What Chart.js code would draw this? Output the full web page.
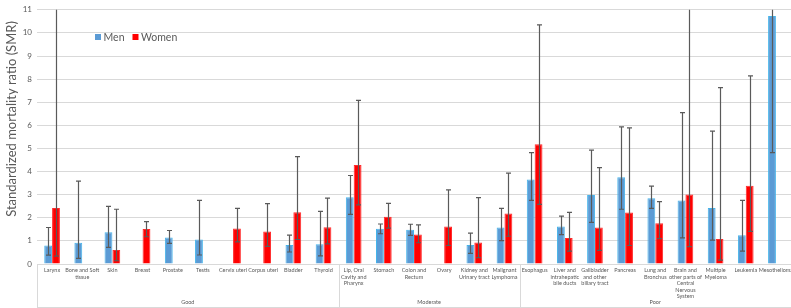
<!DOCTYPE html>
<html>
<head>
<meta charset="utf-8">
<script src="https://cdn.jsdelivr.net/npm/chart.js@4/dist/chart.umd.min.js"></script>
<style>
html,body{margin:0;padding:0;background:#fff;}
canvas{display:block;}
</style>
</head>
<body>
<canvas id="c" width="791" height="308" style="width:791px;height:308px"></canvas>
<script>
const categories = [
  ['Larynx'], ['Bone and Soft','tissue'], ['Skin'], ['Breast'], ['Prostate'], ['Testis'],
  ['Cervix uteri'], ['Corpus uteri'], ['Bladder'], ['Thyroid'],
  ['Lip, Oral','Cavity and','Pharynx'], ['Stomach'], ['Colon and','Rectum'], ['Ovary'],
  ['Kidney and','Urinary tract'], ['Malignant','Lymphoma'],
  ['Esophagus'], ['Liver and','intrahepatic','bile ducts'], ['Gallbladder','and other','biliary tract'],
  ['Pancreas'], ['Lung and','Bronchus'], ['Brain and','other parts of','Central','Nervous','System'],
  ['Multiple','Myeloma'], ['Leukemia'], ['Mesothelioma']
];
const groupNames = ['Good', 'Moderate', 'Poor'];
const groupSizes = [10, 6, 9];

const menSMR   = [0.80, 0.92, 1.37, null, 1.15, 1.06, null, null, 0.82, 0.86, 2.89, 1.52, 1.48, null, 0.82, 1.58, 3.66, 1.62, 2.99, 3.75, 2.85, 2.75, 2.42, 1.24, 10.73];
const menLow   = [0.38, 0.24, 0.72, null, 0.89, 0.39, null, null, 0.52, 0.35, 2.15, 1.31, 1.24, null, 0.46, 1.01, 2.75, 1.27, 1.80, 2.37, 2.41, 1.13, 1.03, 0.56, 4.82];
const menHigh  = [1.58, 3.59, 2.49, null, 1.45, 2.75, null, null, 1.25, 2.28, 3.83, 1.73, 1.72, null, 1.34, 2.41, 4.82, 2.07, 4.93, 5.93, 3.37, 6.55, 5.75, 2.75, 16.0];
const womenSMR = [2.42, null, 0.61, 1.51, null, null, 1.54, 1.41, 2.24, 1.59, 4.28, 2.04, 1.28, 1.62, 0.93, 2.18, 5.18, 1.12, 1.58, 2.23, 1.76, 3.01, 1.08, 3.39, null];
const womenLow = [0.34, null, 0.14, 1.18, null, null, 0.96, 0.76, 1.06, 0.87, 2.56, 1.55, 0.92, 0.80, 0.28, 1.20, 2.58, 0.56, 0.59, 0.80, 1.10, 0.75, 0.17, 1.41, null];
const womenHigh= [14.0, null, 2.37, 1.83, null, null, 2.41, 2.61, 4.65, 2.85, 7.08, 2.62, 1.69, 3.21, 2.87, 3.93, 10.35, 2.23, 4.17, 5.89, 2.70, 13.0, 7.63, 8.14, null];
const yTitle = 'Standardized mortality ratio (SMR)';

const TXT = '#595959';
const FONT = 'Lato, "Open Sans", sans-serif';

const errorBars = {
  id: 'errorBars',
  afterDatasetsDraw(chart) {
    const ctx = chart.ctx, ys = chart.scales.y, area = chart.chartArea;
    const sets = [[menLow, menHigh], [womenLow, womenHigh]];
    ctx.save();
    ctx.strokeStyle = '#5a5a5a';
    ctx.lineWidth = 1.2;
    sets.forEach((s, di) => {
      const meta = chart.getDatasetMeta(di);
      meta.data.forEach((el, i) => {
        if (s[0][i] == null || chart.data.datasets[di].data[i] == null) return;
        const x = Math.round(el.x) + 0.5;
        let yH = ys.getPixelForValue(s[1][i]);
        let yL = ys.getPixelForValue(s[0][i]);
        const clipH = yH < area.top;
        if (clipH) yH = area.top;
        ctx.beginPath();
        ctx.moveTo(x, yH); ctx.lineTo(x, yL);
        if (!clipH) { ctx.moveTo(x - 2.5, yH); ctx.lineTo(x + 2.5, yH); }
        ctx.moveTo(x - 2.5, yL); ctx.lineTo(x + 2.5, yL);
        ctx.stroke();
      });
    });
    ctx.restore();
  }
};

const decorations = {
  id: 'decorations',
  afterDraw(chart) {
    const ctx = chart.ctx, xs = chart.scales.x, area = chart.chartArea;
    const bottom = 307;
    ctx.save();
    ctx.strokeStyle = '#d9d9d9';
    ctx.lineWidth = 1;
    const boundary = k => k <= 0 ? xs.left : (k >= categories.length ? xs.right : (xs.getPixelForValue(k - 1) + xs.getPixelForValue(k)) / 2);
    ctx.beginPath();
    let k = 0;
    const bounds = [boundary(0)];
    groupSizes.forEach(n => { k += n; bounds.push(boundary(k)); });
    bounds.forEach(b => { const bx = Math.round(b) + 0.5; ctx.moveTo(bx, area.bottom); ctx.lineTo(bx, bottom); });
    ctx.moveTo(xs.left, bottom + 0.5); ctx.lineTo(xs.right, bottom + 0.5);
    ctx.stroke();
    ctx.fillStyle = TXT;
    ctx.font = '5.5px ' + FONT;
    ctx.textAlign = 'center';
    ctx.textBaseline = 'middle';
    groupNames.forEach((g, i) => ctx.fillText(g, (bounds[i] + bounds[i + 1]) / 2, 302.5));
    // y title
    ctx.save();
    ctx.translate(12, 119);
    ctx.rotate(-Math.PI / 2);
    ctx.font = '13px ' + FONT;
    ctx.fillText(yTitle, 0, 0);
    ctx.restore();
    // legend
    ctx.textAlign = 'left';
    ctx.font = '10.5px ' + FONT;
    let lx = 95;
    chart.data.datasets.forEach(ds => {
      ctx.fillStyle = ds.backgroundColor;
      ctx.fillRect(lx, 34, 6, 6);
      ctx.fillStyle = TXT;
      ctx.fillText(ds.label, lx + 8.5, 37.5);
      lx += 8.5 + ctx.measureText(ds.label).width + 8;
    });
    ctx.restore();
  }
};

new Chart(document.getElementById('c'), {
  type: 'bar',
  data: {
    labels: categories,
    datasets: [
      { label: 'Men', data: menSMR, backgroundColor: '#5B9BD5', borderColor: '#45B4EA', borderWidth: 1, borderSkipped: 'bottom' },
      { label: 'Women', data: womenSMR, backgroundColor: '#FF0000', borderColor: '#FF2B2B', borderWidth: 1, borderSkipped: 'bottom' }
    ]
  },
  options: {
    responsive: false,
    animation: false,
    devicePixelRatio: 1,
    layout: { padding: { top: 3, right: 0, left: 0, bottom: 0 } },
    categoryPercentage: 0.52,
    barPercentage: 1.0,
    plugins: { legend: { display: false }, tooltip: { enabled: false } },
    scales: {
      x: {
        grid: { display: false, drawTicks: false },
        border: { display: false },
        ticks: { autoSkip: false, maxRotation: 0, minRotation: 0, color: TXT, font: { size: 5.5, family: FONT, lineHeight: 1.2 }, padding: 3 },
        afterFit(s) { s.height = 44; s.paddingLeft = 0; s.paddingRight = 0; }
      },
      y: {
        min: 0, max: 11,
        grid: { color: '#d9d9d9', drawTicks: false },
        border: { display: false },
        ticks: { stepSize: 1, color: TXT, font: { size: 8, family: FONT }, padding: 5 },
        afterFit(s) { s.width = 37; }
      }
    }
  },
  plugins: [errorBars, decorations]
});
</script>
</body>
</html>
